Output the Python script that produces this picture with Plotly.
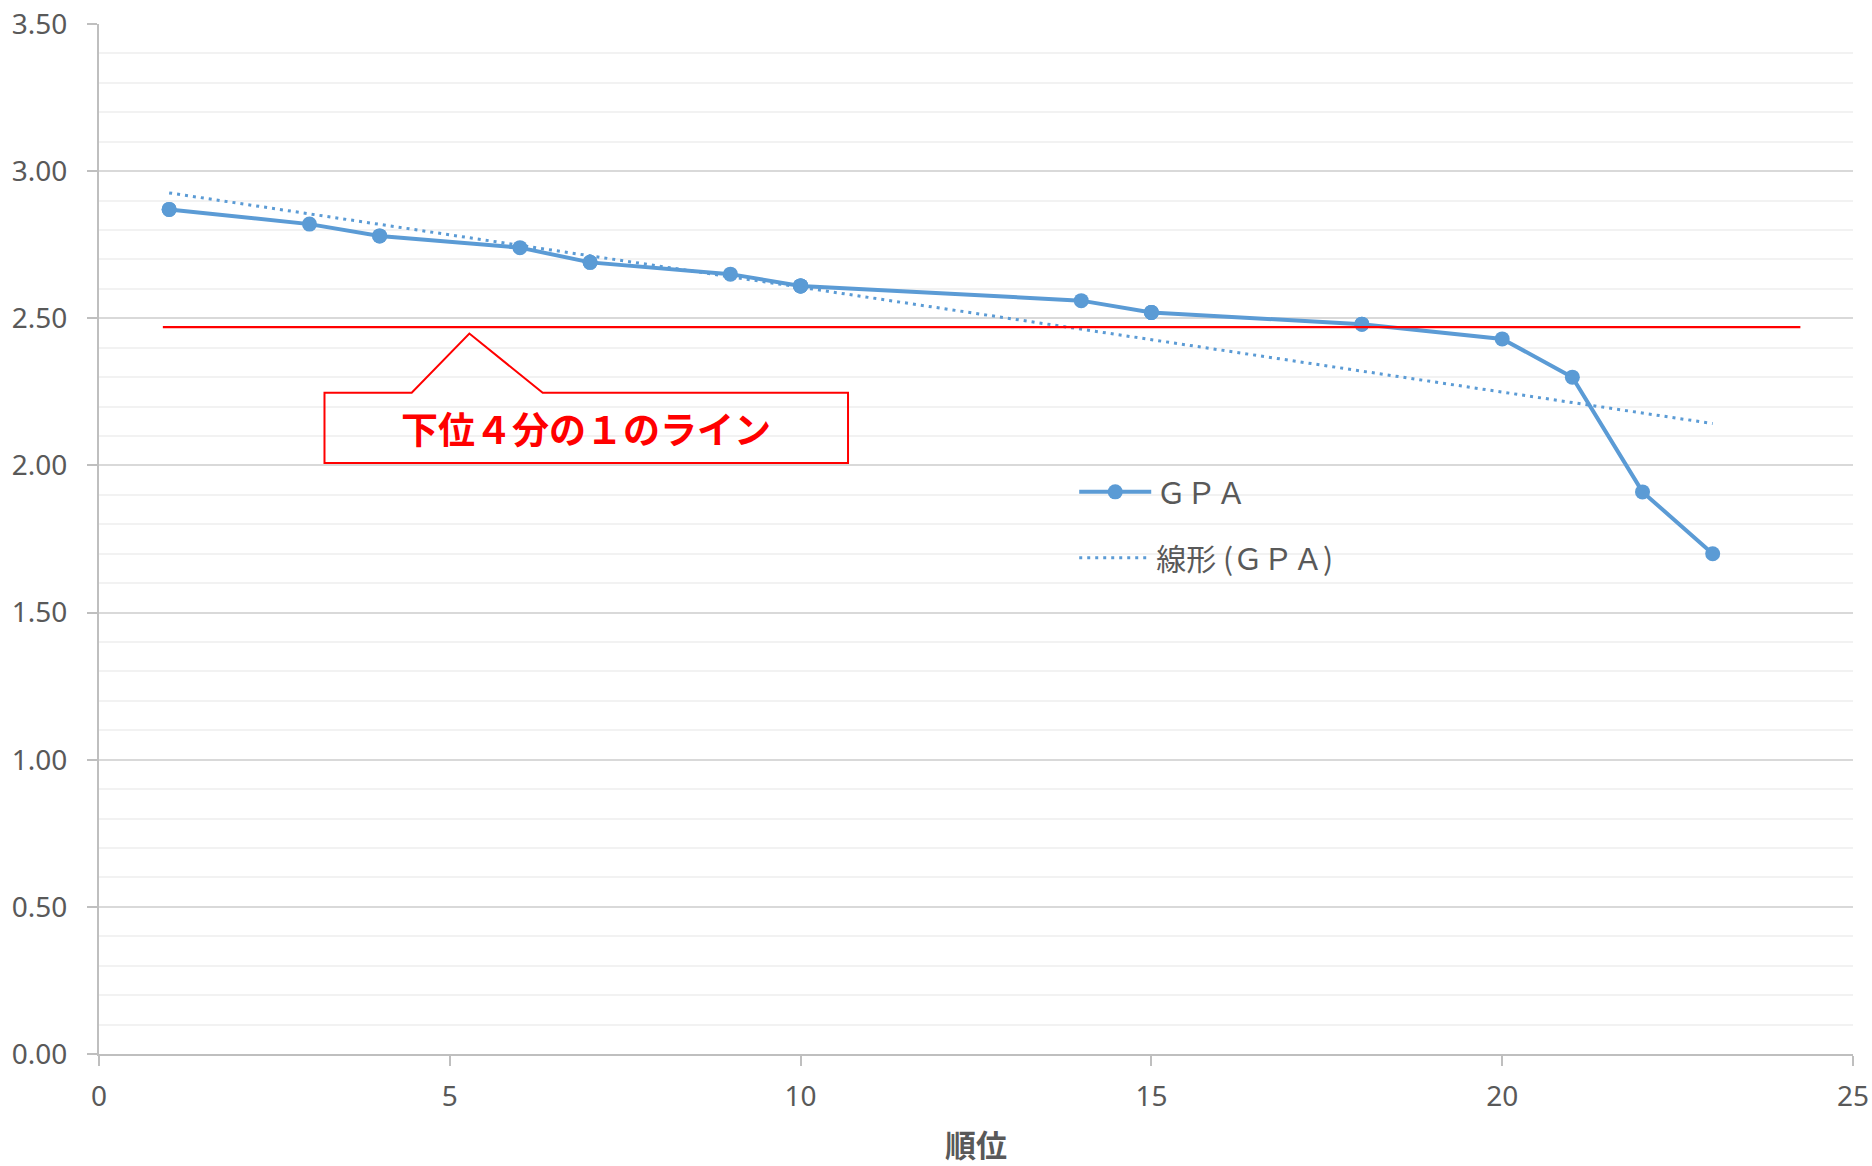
import numpy as np
import plotly.graph_objects as go

# ---- data ----
rank = [1, 1, 3, 4, 4, 6, 7, 7, 9, 10, 10, 10, 10, 14, 15, 15, 15, 18, 18, 20, 21, 22, 23]
gpa = [2.87, 2.87, 2.82, 2.78, 2.78, 2.74, 2.69, 2.69, 2.65, 2.61, 2.61, 2.61, 2.61,
       2.56, 2.52, 2.52, 2.52, 2.48, 2.48, 2.43, 2.30, 1.91, 1.70]
series_name = "ＧＰＡ"
trend_name = "線形 (ＧＰＡ)"
x_title = "順位"
callout_text = "下位４分の１のライン"
quartile_line_y = 2.47
quartile_line_x = [0.91, 24.25]

# linear trendline (least squares over the data range, like Excel)
slope, intercept = np.polyfit(rank, gpa, 1)
trend_x = [min(rank), max(rank)]
trend_y = [slope * v + intercept for v in trend_x]

BLUE = "#5B9BD5"
RED = "#FF0000"
GRAY_TXT = "#595959"
FONT = "Noto Sans, Noto Sans CJK JP"

fig = go.Figure()
fig.add_trace(go.Scatter(
    x=rank, y=gpa, name=series_name, mode="lines+markers",
    line=dict(color=BLUE, width=4),
    marker=dict(color=BLUE, size=15),
    legendgroup="a",
))
fig.add_trace(go.Scatter(
    x=trend_x, y=trend_y, name=trend_name, mode="lines",
    line=dict(color=BLUE, width=3, dash="3px,5px"),
    legendgroup="b",
))

# red quartile line
fig.add_shape(type="line", xref="x", yref="y",
              x0=quartile_line_x[0], x1=quartile_line_x[1],
              y0=quartile_line_y, y1=quartile_line_y,
              line=dict(color=RED, width=2.2))

# callout box with pointer
bx0, bx1, by0, by1 = 3.214, 10.676, 2.008, 2.247
tip = (5.279, 2.448)
bl, br = 4.457, 6.324
path = (f"M {bx0},{by1} L {bl},{by1} L {tip[0]},{tip[1]} L {br},{by1} "
        f"L {bx1},{by1} L {bx1},{by0} L {bx0},{by0} Z")
fig.add_shape(type="path", xref="x", yref="y", path=path,
              line=dict(color=RED, width=2), fillcolor="rgba(0,0,0,0)")
fig.add_annotation(x=(bx0 + bx1) / 2, y=(by0 + by1) / 2, xref="x", yref="y",
                   text=f"<b>{callout_text}</b>", showarrow=False,
                   font=dict(family="Noto Sans CJK JP", size=37, color=RED))

fig.update_layout(
    width=1872, height=1166,
    margin=dict(l=99, r=19, t=24, b=112),
    paper_bgcolor="white", plot_bgcolor="white",
    font=dict(family=FONT, color=GRAY_TXT, size=28),
    showlegend=True,
    legend=dict(
        x=0.556, y=0.571, xanchor="left", yanchor="top",
        bgcolor="rgba(0,0,0,0)",
        font=dict(family="Noto Sans CJK JP", size=30, color=GRAY_TXT),
        traceorder="grouped", tracegroupgap=24, itemwidth=72,
    ),
    xaxis=dict(
        range=[0, 25], dtick=5, tick0=0, automargin=False,
        showgrid=False, zeroline=False,
        showline=True, linecolor="#BFBFBF", linewidth=2,
        ticks="outside", ticklen=10, tickwidth=2, tickcolor="#BFBFBF",
        tickfont=dict(family="Noto Sans", size=28, color=GRAY_TXT),
        ticklabelstandoff=6, ticklabeloverflow="allow",
        title=dict(text=f"<b>{x_title}</b>", standoff=24,
                   font=dict(family="Noto Sans CJK JP", size=31, color=GRAY_TXT)),
    ),
    yaxis=dict(
        range=[0, 3.5], dtick=0.5, tick0=0, tickformat=".2f", automargin=False,
        showgrid=True, gridcolor="#D9D9D9", gridwidth=1.5,
        zeroline=False,
        showline=True, linecolor="#BFBFBF", linewidth=2,
        ticks="outside", ticklen=10, tickwidth=2, tickcolor="#BFBFBF",
        tickfont=dict(family="Noto Sans", size=28, color=GRAY_TXT),
        ticklabelstandoff=14, ticklabeloverflow="allow",
        minor=dict(dtick=0.1, showgrid=True, gridcolor="#F2F2F2", gridwidth=1.5, ticks=""),
    ),
)

fig.write_html("out.html", config={"displayModeBar": False},
               post_script="document.body.style.margin='0';")
